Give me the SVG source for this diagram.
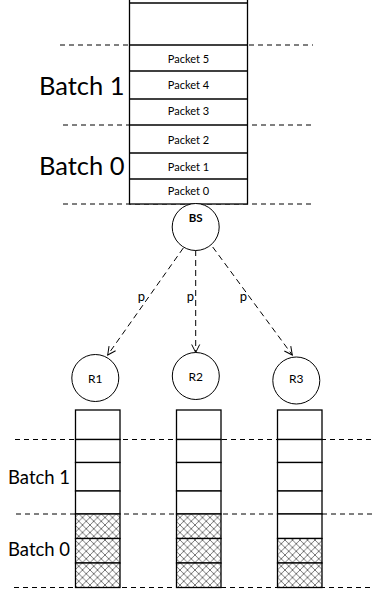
<svg xmlns="http://www.w3.org/2000/svg" width="372" height="593" viewBox="0 0 372 593">
<style>
.ln{stroke:#000;stroke-width:1.3;fill:none}
.dash{stroke:#000;stroke-width:1;stroke-dasharray:5,4;fill:none}
.cell{fill:#fff;stroke:#000;stroke-width:1.3}
.hatch{fill:url(#xh);stroke:#000;stroke-width:1.3}
.node{fill:#fff;stroke:#000;stroke-width:1}
.t{font-family:Lato,"Liberation Sans",sans-serif;fill:#000}
.pk{font-size:11px;text-anchor:middle}
.big{font-size:25.5px}
.mid{font-size:18.5px}
.conn{stroke:#000;stroke-width:1;stroke-dasharray:6,4;fill:none;marker-end:url(#arr)}
</style>
<defs>
<pattern id="xh" width="7.5" height="7.5" patternUnits="userSpaceOnUse">
<rect width="7.5" height="7.5" fill="#fff"/>
<path d="M0,0L7.5,7.5M7.5,0L0,7.5" stroke="#555" stroke-width="0.8"/>
</pattern>
<marker id="arr" markerWidth="10" markerHeight="10" refX="9" refY="5" orient="auto" markerUnits="userSpaceOnUse">
<path d="M1,1L9,5L1,9" fill="none" stroke="#000" stroke-width="1"/>
</marker>
</defs>

<g id="guides">
<line class="dash" x1="60" y1="45" x2="313" y2="45"/>
<line class="dash" x1="63" y1="125" x2="315" y2="125"/>
<line class="dash" x1="63" y1="204" x2="315" y2="204"/>
<line class="dash" x1="15" y1="439.5" x2="372" y2="439.5"/>
<line class="dash" x1="16" y1="514" x2="372" y2="514"/>
<line class="dash" x1="14" y1="587.5" x2="372" y2="587.5"/>
</g>

<g id="bs-queue">
<rect class="cell" x="129.5" y="-5" width="118" height="209"/>
<line class="ln" x1="129.5" y1="3" x2="247.5" y2="3"/>
<line class="ln" x1="129.5" y1="45" x2="247.5" y2="45"/>
<line class="ln" x1="129.5" y1="71" x2="247.5" y2="71"/>
<line class="ln" x1="129.5" y1="99" x2="247.5" y2="99"/>
<line class="ln" x1="129.5" y1="125" x2="247.5" y2="125"/>
<line class="ln" x1="129.5" y1="153" x2="247.5" y2="153"/>
<line class="ln" x1="129.5" y1="179" x2="247.5" y2="179"/>
<text class="t pk" x="188.5" y="63">Packet 5</text>
<text class="t pk" x="188.5" y="89">Packet 4</text>
<text class="t pk" x="188.5" y="115">Packet 3</text>
<text class="t pk" x="188.5" y="144">Packet 2</text>
<text class="t pk" x="188.5" y="171">Packet 1</text>
<text class="t pk" x="188.5" y="195">Packet 0</text>
</g>

<g id="labels">
<text class="t big" x="39" y="95">Batch 1</text>
<text class="t big" x="39" y="175">Batch 0</text>
<text class="t mid" x="8" y="484">Batch 1</text>
<text class="t mid" x="8" y="556">Batch 0</text>
</g>

<g id="connectors">
<line class="conn" x1="183.3" y1="248" x2="107.7" y2="355"/>
<line class="conn" x1="195.7" y1="250" x2="195.7" y2="352.5"/>
<line class="conn" x1="212.7" y1="247" x2="292.3" y2="355"/>
<text class="t" x="141.5" y="301" font-size="13" text-anchor="middle">p</text>
<text class="t" x="190.5" y="301" font-size="13" text-anchor="middle">p</text>
<text class="t" x="243.5" y="301" font-size="13" text-anchor="middle">p</text>
</g>

<g id="BS">
<circle class="node" cx="195.7" cy="227" r="23.5"/>
<text class="t" x="195.7" y="221.5" font-size="11.5" font-weight="bold" text-anchor="middle">BS</text>
</g>
<g id="R1">
<circle class="node" cx="95.3" cy="378" r="23.5"/>
<text class="t" x="95.3" y="383" font-size="12" text-anchor="middle">R1</text>
</g>
<g id="R2">
<circle class="node" cx="195.8" cy="376" r="23.5"/>
<text class="t" x="195.8" y="381" font-size="12" text-anchor="middle">R2</text>
</g>
<g id="R3">
<circle class="node" cx="296.3" cy="380.5" r="23.5"/>
<text class="t" x="296.3" y="383" font-size="12" text-anchor="middle">R3</text>
</g>

<g id="R1-queue">
<rect class="cell" x="75.5" y="410" width="44.5" height="29.5"/>
<rect class="cell" x="75.5" y="439.5" width="44.5" height="23"/>
<rect class="cell" x="75.5" y="462.5" width="44.5" height="28.5"/>
<rect class="cell" x="75.5" y="491" width="44.5" height="23"/>
<rect class="hatch" x="75.5" y="514" width="44.5" height="24.5"/>
<rect class="hatch" x="75.5" y="538.5" width="44.5" height="24.5"/>
<rect class="hatch" x="75.5" y="563" width="44.5" height="24.5"/>
</g>
<g id="R2-queue">
<rect class="cell" x="176.5" y="410" width="44.5" height="29.5"/>
<rect class="cell" x="176.5" y="439.5" width="44.5" height="23"/>
<rect class="cell" x="176.5" y="462.5" width="44.5" height="28.5"/>
<rect class="cell" x="176.5" y="491" width="44.5" height="23"/>
<rect class="hatch" x="176.5" y="514" width="44.5" height="24.5"/>
<rect class="hatch" x="176.5" y="538.5" width="44.5" height="24.5"/>
<rect class="hatch" x="176.5" y="563" width="44.5" height="24.5"/>
</g>
<g id="R3-queue">
<rect class="cell" x="277.5" y="410" width="44.5" height="29.5"/>
<rect class="cell" x="277.5" y="439.5" width="44.5" height="23"/>
<rect class="cell" x="277.5" y="462.5" width="44.5" height="28.5"/>
<rect class="cell" x="277.5" y="491" width="44.5" height="23"/>
<rect class="cell" x="277.5" y="514" width="44.5" height="24.5"/>
<rect class="hatch" x="277.5" y="538.5" width="44.5" height="24.5"/>
<rect class="hatch" x="277.5" y="563" width="44.5" height="24.5"/>
</g>
</svg>
